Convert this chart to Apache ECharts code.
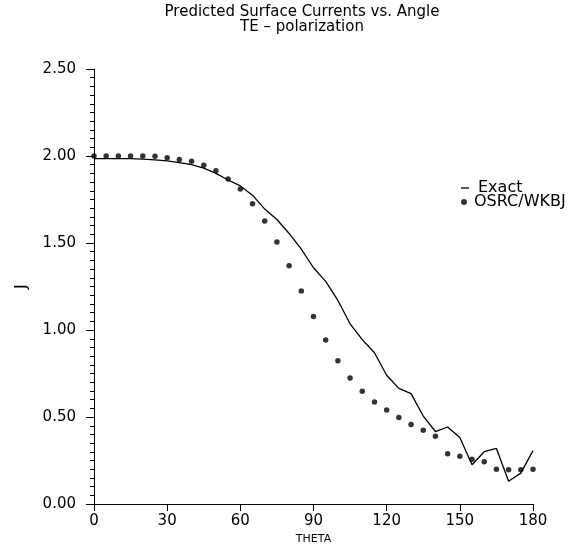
<!DOCTYPE html>
<html>
<head>
<meta charset="utf-8">
<script src="https://cdn.jsdelivr.net/npm/echarts@6/dist/echarts.min.js"></script>
<style>html,body{margin:0;padding:0;background:#fff}#c{width:576px;height:550px}</style>
</head>
<body>
<div id="c"></div>
<script>
var theta = [0,5,10,15,20,25,30,35,40,45,50,55,60,65,70,75,80,85,90,95,100,105,110,115,120,125,130,135,140,145,150,155,160,165,170,175,180];
var exact = [1.985,1.985,1.985,1.985,1.982,1.978,1.972,1.962,1.950,1.930,1.900,1.862,1.828,1.775,1.695,1.635,1.555,1.465,1.358,1.280,1.170,1.036,0.945,0.870,0.740,0.665,0.635,0.506,0.417,0.443,0.383,0.226,0.301,0.320,0.131,0.178,0.307];
var osrc = [2.00,2.00,2.00,2.00,2.00,1.998,1.990,1.980,1.970,1.947,1.915,1.868,1.810,1.726,1.627,1.506,1.369,1.225,1.078,0.943,0.824,0.725,0.649,0.587,0.540,0.497,0.458,0.424,0.390,0.290,0.275,0.258,0.243,0.200,0.197,0.197,0.200];
var yTicks = ['0.00','0.50','1.00','1.50','2.00','2.50'];
var titleText = 'Predicted Surface Currents vs. Angle\nTE \u2013 polarization';

var F = 'DejaVu Sans';
var chart = echarts.init(document.getElementById('c'), null, {renderer:'canvas'});
chart.setOption({
  backgroundColor:'#fff',
  animation:false,
  title:{text:titleText,left:302,top:5,textAlign:'center',padding:0,
    textStyle:{fontFamily:F,fontSize:15,fontWeight:'normal',color:'#000',lineHeight:15}},
  legend:[
    {data:[{name:'Exact',icon:'rect'}],left:461,top:180,itemWidth:8,itemHeight:1.3,itemGap:0,padding:0,
      textStyle:{fontFamily:F,fontSize:16,color:'#000',padding:[0,0,0,4]}},
    {data:[{name:'OSRC/WKBJ',icon:'circle'}],left:461,top:194,itemWidth:6,itemHeight:6,itemGap:0,padding:0,
      textStyle:{fontFamily:F,fontSize:16,color:'#000',padding:[0,0,0,2]}}
  ],
  grid:{left:94,right:43,top:69,bottom:41,containLabel:false},
  xAxis:{type:'value',min:0,max:180,interval:30,name:'THETA',nameLocation:'middle',nameGap:23,
    nameTextStyle:{fontFamily:F,fontSize:11,color:'#000'},
    axisLine:{show:true,onZero:false,lineStyle:{color:'#000',width:1}},
    axisTick:{show:true,inside:false,length:7,lineStyle:{color:'#000'}},
    axisLabel:{fontFamily:F,fontSize:15,color:'#000',margin:10},
    splitLine:{show:false}},
  yAxis:{type:'value',min:0,max:2.5,interval:0.5,name:'J',nameLocation:'middle',nameGap:64,nameRotate:90,
    nameTextStyle:{fontFamily:F,fontSize:16,color:'#000'},
    axisLine:{show:true,lineStyle:{color:'#000',width:1}},
    axisTick:{show:true,inside:false,length:8,lineStyle:{color:'#000'}},
    minorTick:{show:true,splitNumber:10,length:4,lineStyle:{color:'#000'}},
    axisLabel:{fontFamily:F,fontSize:15,color:'#000',margin:18,
      formatter:function(v){return yTicks[Math.round(v/0.5)];}},
    splitLine:{show:false}},
  series:[
    {name:'Exact',type:'line',data:theta.map(function(t,i){return [t,exact[i]];}),
      showSymbol:false,symbol:'none',lineStyle:{color:'#000',width:1.3},itemStyle:{color:'#000'}},
    {name:'OSRC/WKBJ',type:'scatter',data:theta.map(function(t,i){return [t,osrc[i]];}),
      symbol:'circle',symbolSize:5.5,itemStyle:{color:'#000'}}
  ]
});
</script>
</body>
</html>
